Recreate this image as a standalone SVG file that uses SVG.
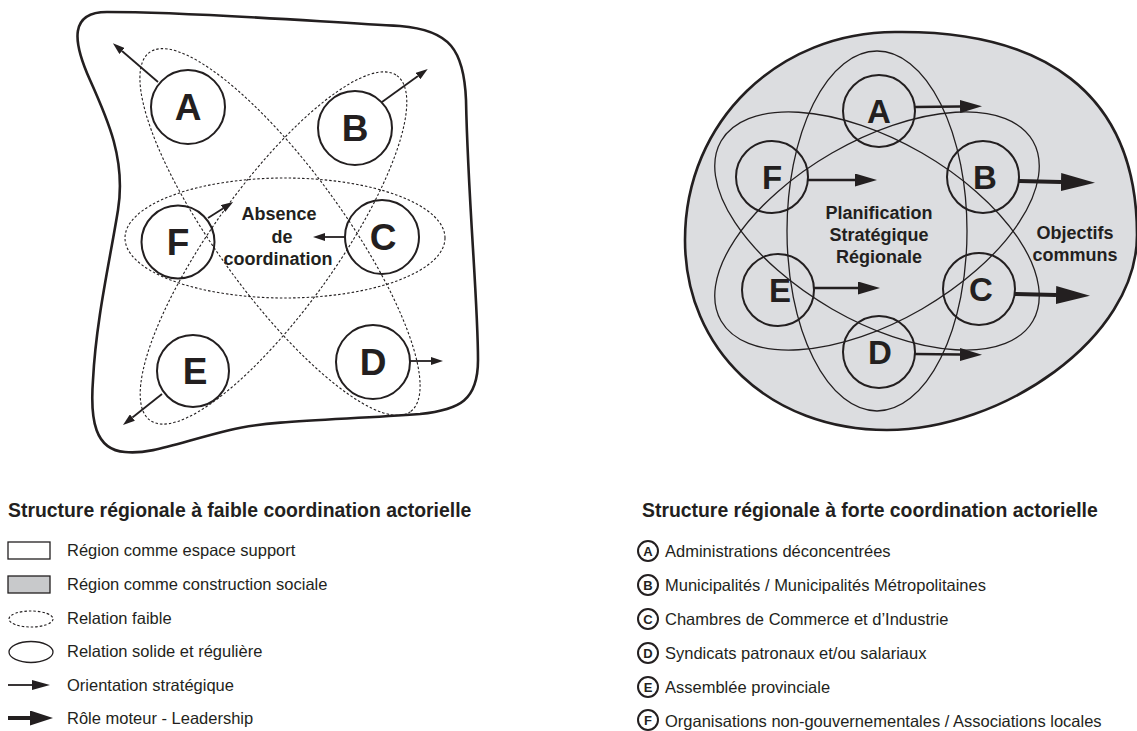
<svg xmlns="http://www.w3.org/2000/svg" width="1137" height="731" viewBox="0 0 1137 731">
<style>
.t{font-family:"Liberation Sans",Arial,Helvetica,sans-serif;fill:#231f20}
.big{font-size:37px;font-weight:bold;text-anchor:middle}
.bigR{font-size:33px;font-weight:bold;text-anchor:middle}
.lbl{font-size:18px;font-weight:bold;text-anchor:middle}
.leg{font-size:16.5px}
.ttl{font-size:19.4px;font-weight:bold}
.sm{font-size:13px;font-weight:bold;text-anchor:middle}
.node{fill:none;stroke:#231f20;stroke-width:2}
.dot{fill:none;stroke:#231f20;stroke-width:1.1;stroke-dasharray:2.5 2}
.sol{fill:none;stroke:#231f20;stroke-width:1.3}
.ln{fill:none;stroke:#231f20;stroke-width:1.8}
.lnR{fill:none;stroke:#231f20;stroke-width:2.6}
.lnB{fill:none;stroke:#231f20;stroke-width:4}
.ah{fill:#231f20}
</style>
<defs>
<marker id="arrL" markerUnits="userSpaceOnUse" viewBox="0 0 12 8" markerWidth="12" markerHeight="8" refX="0" refY="4" orient="auto"><path class="ah" d="M0,0 L12,4 L0,8 Z"/></marker>
<marker id="arrR" markerUnits="userSpaceOnUse" viewBox="0 0 22 13" markerWidth="22" markerHeight="13" refX="0" refY="6.5" orient="auto"><path class="ah" d="M0,0 L22,6.5 L0,13 Z"/></marker>
<marker id="arrB" markerUnits="userSpaceOnUse" viewBox="0 0 34 18" markerWidth="34" markerHeight="18" refX="0" refY="9" orient="auto"><path class="ah" d="M0,0 L34,9 L0,18 Z"/></marker>
<marker id="arrLT" markerUnits="userSpaceOnUse" viewBox="0 0 18 10" markerWidth="18" markerHeight="10" refX="0" refY="5" orient="auto"><path class="ah" d="M0,0 L18,5 L0,10 Z"/></marker>
<marker id="arrLB" markerUnits="userSpaceOnUse" viewBox="0 0 23 15" markerWidth="23" markerHeight="15" refX="0" refY="7.5" orient="auto"><path class="ah" d="M0,0 L23,7.5 L0,15 Z"/></marker>
</defs>
<rect x="0" y="0" width="1137" height="731" fill="#ffffff"/>

<!-- LEFT: region as support space -->
<path id="left-region" d="M107,12 C200,12 320,22 400,26 C450,30 464,50 466,100 C468,200 478,300 478,360 C478,400 460,410 420,414 C340,420 270,420 230,430 C180,442 150,455 125,452 C95,450 90,420 93,380 C96,320 110,260 118,210 C126,160 108,120 90,80 C72,40 70,12 107,12 Z" fill="#ffffff" stroke="#231f20" stroke-width="2.6"/>

<!-- RIGHT: region as social construction -->
<path id="right-region" d="M685,240 C685,120 780,32 895,32 C1040,30 1137,90 1137,235 C1137,340 1000,430 887,430 C770,430 685,350 685,240 Z" fill="#dcdde0" stroke="#231f20" stroke-width="2.6"/>

<g id="connectors">
 <g id="connectors-left">
  <ellipse class="dot" cx="285" cy="238" rx="160" ry="60"/>
  <ellipse class="dot" cx="280" cy="232" rx="222" ry="63" transform="rotate(54 280 232)"/>
  <ellipse class="dot" cx="273.5" cy="248" rx="212" ry="62" transform="rotate(-54.4 273.5 248)"/>
  <line class="ln" x1="158" y1="82" x2="122" y2="51" marker-end="url(#arrL)"/>
  <line class="ln" x1="382" y1="102" x2="418" y2="76" marker-end="url(#arrL)"/>
  <line class="ln" x1="208" y1="218" x2="223" y2="208.5" marker-end="url(#arrL)"/>
  <line class="ln" x1="345" y1="237" x2="325" y2="237" marker-end="url(#arrL)"/>
  <line class="ln" x1="410" y1="361" x2="431" y2="361" marker-end="url(#arrL)"/>
  <line class="ln" x1="162" y1="394" x2="132.4" y2="417.5" marker-end="url(#arrL)"/>
 </g>
 <g id="connectors-right">
  <ellipse class="sol" cx="877" cy="231" rx="90" ry="180"/>
  <ellipse class="sol" cx="877" cy="231" rx="180" ry="90" transform="rotate(30 877 231)"/>
  <ellipse class="sol" cx="877" cy="231" rx="180" ry="90" transform="rotate(-30 877 231)"/>
  <line class="lnR" x1="915" y1="107" x2="960" y2="106.5" marker-end="url(#arrR)"/>
  <line class="lnR" x1="808" y1="180" x2="855" y2="180" marker-end="url(#arrR)"/>
  <line class="lnR" x1="814" y1="288" x2="858" y2="288" marker-end="url(#arrR)"/>
  <line class="lnR" x1="915" y1="354" x2="960" y2="354.5" marker-end="url(#arrR)"/>
  <line class="lnB" x1="1019" y1="181" x2="1061" y2="182" marker-end="url(#arrB)"/>
  <line class="lnB" x1="1015" y1="294" x2="1056" y2="295" marker-end="url(#arrB)"/>
 </g>
</g>

<!-- LEFT nodes -->
<g id="L-A"><circle class="node" cx="188" cy="107" r="37"/><text class="t big" x="188" y="120">A</text></g>
<g id="L-B"><circle class="node" cx="355" cy="128" r="37"/><text class="t big" x="355" y="141">B</text></g>
<g id="L-C"><circle class="node" cx="382" cy="237" r="37"/><text class="t big" x="383" y="250">C</text></g>
<g id="L-D"><circle class="node" cx="373" cy="362" r="37"/><text class="t big" x="373" y="375">D</text></g>
<g id="L-E"><circle class="node" cx="193" cy="371" r="36"/><text class="t big" x="195" y="384">E</text></g>
<g id="L-F"><circle class="node" cx="178" cy="242" r="36.5"/><text class="t big" x="178" y="255">F</text></g>
<g id="L-label"><text class="t lbl" x="279" y="220">Absence</text><text class="t lbl" x="282" y="243">de</text><text class="t lbl" x="278" y="265">coordination</text></g>

<!-- RIGHT nodes -->
<g id="R-A"><circle class="node" cx="879" cy="111" r="36"/><text class="t bigR" x="879" y="123">A</text></g>
<g id="R-B"><circle class="node" cx="983" cy="177" r="36"/><text class="t bigR" x="985" y="189">B</text></g>
<g id="R-C"><circle class="node" cx="979" cy="289" r="36"/><text class="t bigR" x="981" y="301">C</text></g>
<g id="R-D"><circle class="node" cx="879" cy="352" r="36"/><text class="t bigR" x="880" y="364">D</text></g>
<g id="R-E"><circle class="node" cx="778" cy="290" r="36"/><text class="t bigR" x="780" y="302">E</text></g>
<g id="R-F"><circle class="node" cx="772" cy="177" r="36"/><text class="t bigR" x="772" y="189">F</text></g>
<g id="R-label"><text class="t lbl" x="879" y="219">Planification</text><text class="t lbl" x="879" y="241">Stratégique</text><text class="t lbl" x="879" y="263">Régionale</text></g>
<g id="R-goal"><text class="t lbl" x="1075" y="239">Objectifs</text><text class="t lbl" x="1075" y="261">communs</text></g>

<!-- LEFT legend -->
<g id="legend-left">
 <text class="t ttl" x="8" y="517">Structure régionale à faible coordination actorielle</text>
 <rect x="8" y="542" width="42" height="17" fill="#ffffff" stroke="#231f20" stroke-width="1.3"/>
 <text class="t leg" x="67" y="556">Région comme espace support</text>
 <rect x="8" y="576" width="42" height="17" fill="#c8c9cb" stroke="#231f20" stroke-width="1.3"/>
 <text class="t leg" x="67" y="590">Région comme construction sociale</text>
 <ellipse class="dot" cx="31" cy="619" rx="22" ry="8" stroke-dasharray="2 1.6"/>
 <text class="t leg" x="67" y="624">Relation faible</text>
 <ellipse class="sol" cx="31" cy="652" rx="22" ry="10.5"/>
 <text class="t leg" x="67" y="657">Relation solide et régulière</text>
 <line class="ln" x1="8" y1="685" x2="32" y2="685" marker-end="url(#arrLT)"/>
 <text class="t leg" x="67" y="691">Orientation stratégique</text>
 <line class="lnB" x1="8" y1="718" x2="30" y2="718" stroke-width="3.5" marker-end="url(#arrLB)"/>
 <text class="t leg" x="67" y="724">Rôle moteur - Leadership</text>
</g>

<!-- RIGHT legend -->
<g id="legend-right">
 <text class="t ttl" x="642" y="517">Structure régionale à forte coordination actorielle</text>
 <circle class="node" cx="648" cy="551" r="10" stroke-width="1.8"/><text class="t sm" x="648" y="555.7">A</text>
 <text class="t leg" x="665" y="557">Administrations déconcentrées</text>
 <circle class="node" cx="648" cy="585" r="10" stroke-width="1.8"/><text class="t sm" x="648" y="589.7">B</text>
 <text class="t leg" x="665" y="591">Municipalités / Municipalités Métropolitaines</text>
 <circle class="node" cx="648" cy="619" r="10" stroke-width="1.8"/><text class="t sm" x="648" y="623.7">C</text>
 <text class="t leg" x="665" y="625">Chambres de Commerce et d’Industrie</text>
 <circle class="node" cx="648" cy="653" r="10" stroke-width="1.8"/><text class="t sm" x="648" y="657.7">D</text>
 <text class="t leg" x="665" y="659">Syndicats patronaux et/ou salariaux</text>
 <circle class="node" cx="648" cy="687" r="10" stroke-width="1.8"/><text class="t sm" x="648" y="691.7">E</text>
 <text class="t leg" x="665" y="693">Assemblée provinciale</text>
 <circle class="node" cx="648" cy="720" r="10" stroke-width="1.8"/><text class="t sm" x="648" y="724.7">F</text>
 <text class="t leg" x="665" y="727">Organisations non-gouvernementales / Associations locales</text>
</g>
</svg>
